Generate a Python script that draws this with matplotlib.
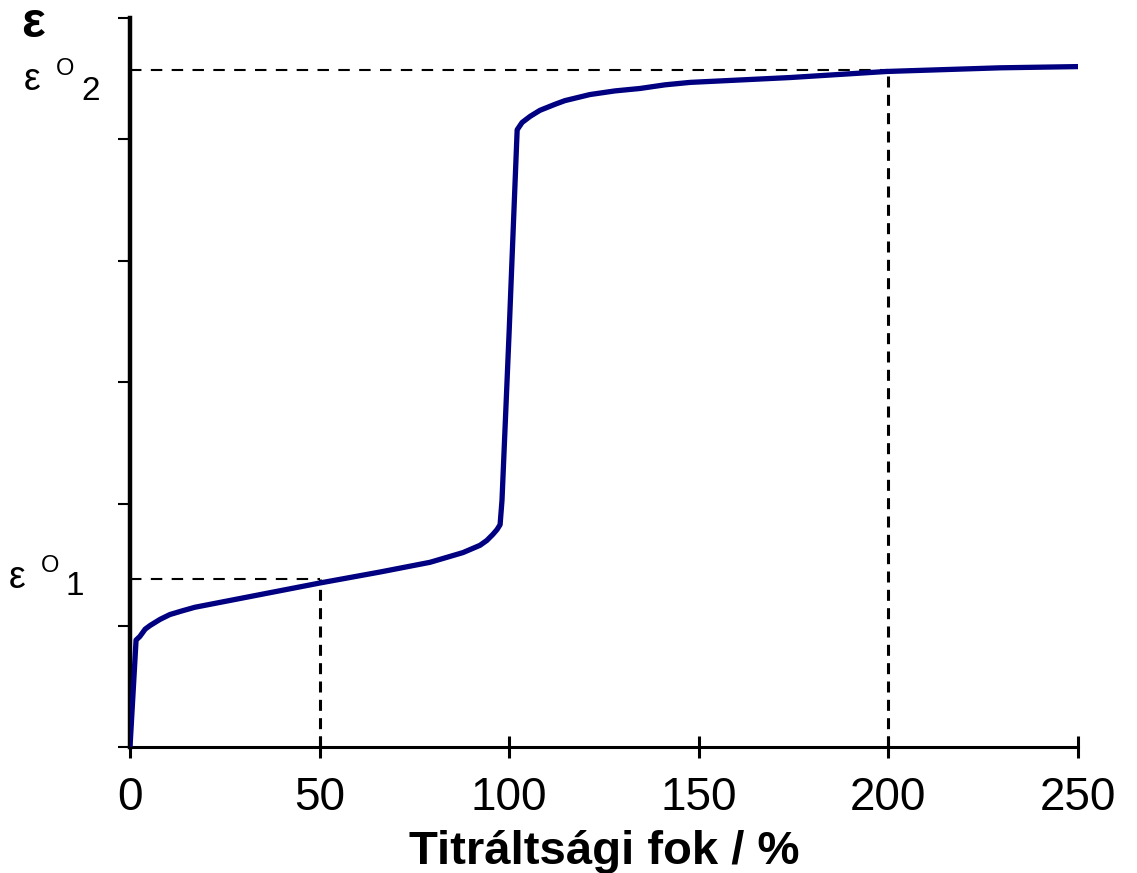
import numpy as np
import matplotlib.pyplot as plt

plt.rcParams['font.family'] = ['Liberation Sans', 'DejaVu Sans']

# titration curve (x: %, y: relative potential units)
titr = [0, 1.6, 2.6, 4.0, 5.3, 7.9, 10.5, 13.7, 17.1, 23.7, 30.3, 36.9, 50.1,
        65.9, 79.1, 87.8, 92.3, 94.1, 95.7, 96.8, 97.6, 98.1, 100.0, 102.1,
        103.4, 105.5, 108.1, 112.1, 114.7, 121.3, 127.9, 134.5, 141.1, 147.7,
        160.9, 174.1, 199.6, 229.4, 250]
eps = [0, 0.88, 0.91, 0.97, 1.00, 1.05, 1.09, 1.12, 1.15, 1.19, 1.23, 1.27, 1.35,
       1.44, 1.52, 1.60, 1.66, 1.70, 1.75, 1.79, 1.83, 2.03, 3.43, 5.08,
       5.14, 5.19, 5.24, 5.29, 5.32, 5.37, 5.40, 5.42, 5.45, 5.47,
       5.49, 5.51, 5.56, 5.59, 5.60]

half1_x, half1_y = 50, 1.38     # eps0_1
half2_x, half2_y = 200, 5.57    # eps0_2
xticks = [0, 50, 100, 150, 200, 250]

W, H = 1137, 873
fig = plt.figure(figsize=(W / 100, H / 100), dpi=100)
ax = fig.add_axes([130 / W, 1 - 747 / H, (1078 - 130) / W, (747 - 18) / H])

ax.plot(titr, eps, color='#000080', lw=3.8, solid_joinstyle='round',
        solid_capstyle='butt', zorder=3)

hdash = dict(color='black', lw=1.5, ls=(0, (5.5, 4.5)), zorder=2)
vdash = dict(color='black', lw=2.2, ls=(0, (3.6, 2.4)), zorder=2)
ax.plot([0, half1_x], [half1_y, half1_y], **hdash)
ax.plot([half1_x, half1_x], [0, half1_y], **vdash)
ax.plot([0, half2_x], [half2_y, half2_y], **hdash)
ax.plot([half2_x, half2_x], [0, half2_y], **vdash)

ax.set_xlim(0, 250)
ax.set_ylim(0, 6)
ax.set_xticks(xticks)
ax.set_yticks(range(7))
ax.set_yticklabels([])
ax.spines['top'].set_visible(False)
ax.spines['right'].set_visible(False)
ax.spines['left'].set_linewidth(3.2)
ax.spines['bottom'].set_linewidth(2.2)
ax.tick_params(axis='x', direction='inout', length=16, width=2.2,
               labelsize=33, pad=13)
ax.tick_params(axis='y', direction='out', length=9, width=1.5)

ax.set_xlabel('Titráltsági fok / %', fontsize=34, fontweight='bold', labelpad=7)


def ftext(x, y, s, **kw):
    fig.text(x / W, 1 - y / H, s, va='baseline', **kw)


ftext(21, 37, 'ε', fontsize=36, fontweight='bold')
ftext(24, 90, 'ε', fontsize=27)
ftext(56, 75, 'O', fontsize=17)
ftext(81, 100, '2', fontsize=24)
ftext(9, 588, 'ε', fontsize=27)
ftext(41, 572, 'O', fontsize=17)
ftext(66, 595, '1', fontsize=24)

fig.savefig('out.png', dpi=100)
